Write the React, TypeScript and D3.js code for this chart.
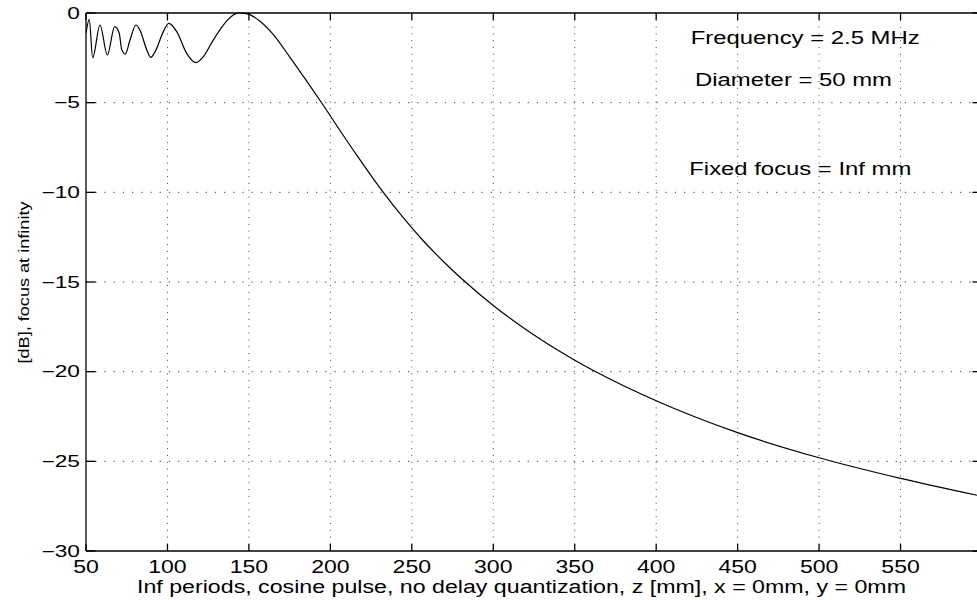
import React from "react";
import * as d3 from "d3";

const zValues = [50, 52.0, 54.1, 58.6, 63.1, 67.6, 70.4, 71.9, 74.1, 77.0, 80.7, 83.1, 87.3, 89.7, 92.4, 97.5, 100.8, 105.7, 111.8, 117.5, 122.0, 128.1, 134.3, 140.4, 144.1, 149.6, 156.8, 165, 175.2, 185.5, 194.7, 205.9, 216.2, 226.4, 232.5, 245, 257, 270, 282.7, 300, 325, 350, 363.5, 400, 450, 500, 550, 600];
const dbValues = [-1.13, -0.35, -2.49, -0.67, -2.34, -0.76, -1.13, -2.03, -2.29, -1.51, -0.67, -0.95, -2.06, -2.47, -2.16, -1.04, -0.58, -1.04, -2.25, -2.77, -2.44, -1.51, -0.67, -0.11, 0, -0.06, -0.46, -1.2, -2.47, -3.8, -5.02, -6.55, -7.93, -9.25, -10.0, -11.44, -12.7, -13.91, -14.99, -16.31, -17.96, -19.36, -20.03, -21.62, -23.4, -24.8, -25.95, -26.95];

const xTicks = [50, 100, 150, 200, 250, 300, 350, 400, 450, 500, 550, 600];
const yTicks = [0, -5, -10, -15, -20, -25, -30];
const annotations = ["Frequency = 2.5 MHz", "Diameter = 50 mm", "Fixed focus = Inf mm"];
const xLabel = "Inf periods, cosine pulse, no delay quantization, z [mm], x = 0mm, y = 0mm";
const yLabel = "[dB], focus at infinity";

const FONT = "'Liberation Sans', Arial, Helvetica, sans-serif";

export default function App() {
  const W = 977, H = 600;
  const left = 86, right = 982, top = 13, bottom = 551;
  const x = d3.scaleLinear().domain([50, 600]).range([left, right]);
  const y = d3.scaleLinear().domain([-30, 0]).range([bottom, top]);
  const pts = zValues.map((z, i) => [z, dbValues[i]] as [number, number]);
  const line = d3.line<[number, number]>().x(d => x(d[0])).y(d => y(d[1])).curve(d3.curveMonotoneX);

  const annPos = [
    { x: 690.7, y: 44.3, w: 229 },
    { x: 695, y: 85.7, w: 197 },
    { x: 689.3, y: 175, w: 222 },
  ];

  return (
    <svg width={W} height={H} style={{ position: "absolute", left: 0, top: 0, background: "#fff" }} fontFamily={FONT}>
      <rect x={0} y={0} width={W} height={H} fill="#fff" />
      <defs>
        <clipPath id="plotclip">
          <rect x={left} y={top - 2} width={right - left} height={bottom - top + 4} />
        </clipPath>
      </defs>
      {/* grid */}
      <g stroke="#444" strokeWidth={1}>
        {xTicks.filter(t => t > 50 && t < 600).map(t => (
          <line key={"gx" + t} x1={x(t)} x2={x(t)} y1={top} y2={bottom} strokeDasharray="1,5.8" />
        ))}
        {yTicks.filter(t => t < 0 && t > -30).map(t => (
          <line key={"gy" + t} x1={left} x2={right} y1={y(t)} y2={y(t)} strokeDasharray="1.3,7.9" />
        ))}
      </g>
      {/* curve */}
      <path d={line(pts) || ""} fill="none" stroke="#000" strokeWidth={1.2} clipPath="url(#plotclip)" />
      {/* axes box */}
      <g stroke="#000" strokeWidth={1.3} fill="none">
        <line x1={left} x2={right} y1={top} y2={top} />
        <line x1={left} x2={right} y1={bottom} y2={bottom} />
        <line x1={left} x2={left} y1={top} y2={bottom} />
        <line x1={right} x2={right} y1={top} y2={bottom} />
        {xTicks.map(t => (
          <g key={"tx" + t}>
            <line x1={x(t)} x2={x(t)} y1={bottom} y2={bottom - 7} />
            <line x1={x(t)} x2={x(t)} y1={top} y2={top + 7} />
          </g>
        ))}
        {yTicks.map(t => (
          <g key={"ty" + t}>
            <line x1={left} x2={left + 9.5} y1={y(t)} y2={y(t)} />
            <line x1={right} x2={right - 9.5} y1={y(t)} y2={y(t)} />
          </g>
        ))}
      </g>
      {/* x tick labels */}
      {xTicks.filter(t => t <= 550).map(t => (
        <text key={"lx" + t} transform={`translate(${x(t)},572.7) scale(1.28,1)`} textAnchor="middle" fontSize={18} fill="#000">
          {t}
        </text>
      ))}
      {/* y tick labels */}
      {yTicks.map(t => (
        <text key={"ly" + t} transform={`translate(80,${y(t) + 5.8}) scale(1.42,1)`} textAnchor="end" fontSize={16} fill="#000">
          {t === 0 ? "0" : "\u2212" + Math.abs(t)}
        </text>
      ))}
      {/* annotations */}
      {annotations.map((a, i) => (
        <text key={"an" + i} x={annPos[i].x} y={annPos[i].y} fontSize={17.5} textLength={annPos[i].w} lengthAdjust="spacingAndGlyphs" fill="#000">
          {a}
        </text>
      ))}
      {/* axis labels */}
      <text x={137} y={593} fontSize={18} textLength={769} lengthAdjust="spacingAndGlyphs" fill="#000">
        {xLabel}
      </text>
      <text transform="translate(29,282.5) rotate(-90)" textAnchor="middle" fontSize={14} textLength={162} lengthAdjust="spacingAndGlyphs" fill="#000">
        {yLabel}
      </text>
    </svg>
  );
}
